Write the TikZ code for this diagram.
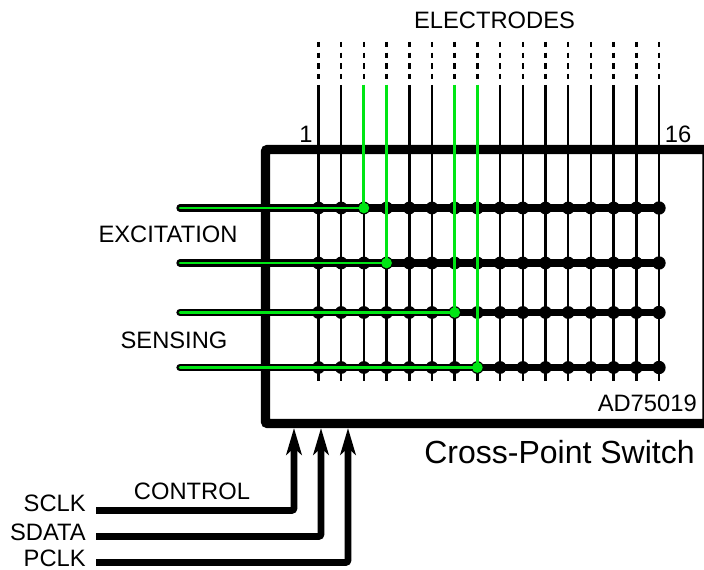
\documentclass[tikz,border=0pt]{standalone}
\usepackage{fontspec}
\setmainfont{Liberation Sans}
\usepackage{xcolor}
\usepackage{tikz}
\usetikzlibrary{arrows.meta, calc}
\definecolor{mygreen}{RGB}{0,230,20}
\tikzset{
  swbox/.style={draw=black,line width=6.9pt,rounded corners=1.5pt},
  lbl/.style={font=\fontsize{17.8pt}{19pt}\selectfont,inner sep=0pt},
  biglbl/.style={font=\fontsize{24pt}{26pt}\selectfont,inner sep=0pt},
  elec/.style={line width=1.9pt,color=black},
  elecdash/.style={line width=1.9pt,color=black,dash pattern=on 4.1pt off 3.9pt},
  greenelec/.style={line width=2.2pt,color=mygreen},
  rowbus/.style={line width=5.5pt,color=black,line cap=round},
  greenbus/.style={line width=2.2pt,color=mygreen,line cap=round},
  crossdot/.style={circle,fill=black,inner sep=0pt,minimum size=9.6pt},
  enddot/.style={circle,fill=black,inner sep=0pt,minimum size=10pt},
  greendot/.style={circle,fill=mygreen,inner sep=0pt,minimum size=8pt},
  ctrl/.style={line width=5.2pt,color=black,rounded corners=2pt,
    -{Stealth[length=20pt,width=11.5pt,inset=5pt]}}
}
\begin{document}
\begin{tikzpicture}[x=0.75pt,y=-0.75pt]
  \useasboundingbox (0,0) rectangle (704,570);
  \clip (0,0) rectangle (704,570);

  % ── Switch outline ───────────────────────────────────────────────
  \draw[swbox] (265.5,149.5) rectangle (707,423.5);

  % ── Electrodes ───────────────────────────────────────────────────
  \foreach \c in {1,...,16} {
    \coordinate (dash\c) at ({318.5+(\c-1)*22.7},42);
    \coordinate (top\c) at ({318.5+(\c-1)*22.7},85);
    \coordinate (end\c) at ({318.5+(\c-1)*22.7},381);
    \draw[elecdash] (dash\c) -- ($(top\c)+(0,-5)$);
    \draw[elec] (top\c) -- (end\c);
  }

  % ── Rows and crossings ───────────────────────────────────────────
  \foreach \r/\y in {1/208,2/263,3/312.5,4/367.5} {
    \coordinate (left\r) at (180,\y);
    \foreach \c in {1,...,15}
      \node[crossdot] (x\c-\r) at (top\c |- left\r) {};
    \node[enddot] (x16-\r) at (top16 |- left\r) {};
    \draw[rowbus] (left\r) -- (x16-\r.center);
  }

  % ── Closed switches ──────────────────────────────────────────────
  \foreach \c/\r in {3/1,4/2,7/3,8/4} {
    \draw[greenelec] (top\c) -- (x\c-\r.center);
    \draw[greenbus] (left\r) -- (x\c-\r.center);
    \node[greendot] (on\c-\r) at (x\c-\r) {};
  }

  % ── Control lines ────────────────────────────────────────────────
  \coordinate (sclkstart) at (96,510.5);
  \coordinate (sdatastart) at (96,536.5);
  \coordinate (pclkstart) at (96,562.5);
  \coordinate (sclktip) at (294,428);
  \coordinate (sdatatip) at (321,428);
  \coordinate (pclktip) at (348,428);
  \draw[ctrl] (sclkstart) -| (sclktip);
  \draw[ctrl] (sdatastart) -| (sdatatip);
  \draw[ctrl] (pclkstart) -| (pclktip);

  % ── Labels ───────────────────────────────────────────────────────
  \node[lbl] (electrodes) at (494.5,20) {ELECTRODES};
  \node[lbl] (first) at (306,134) {1};
  \node[lbl] (last) at (678,134) {16};
  \node[lbl] (excitation) at (168,234.5) {EXCITATION};
  \node[lbl] (sensing) at (174,340) {SENSING};
  \node[lbl,anchor=east] (part) at (697,403) {AD75019};
  \node[biglbl] (title) at (559.5,452) {Cross-Point Switch};
  \node[lbl] (control) at (192,491) {CONTROL};
  \node[lbl,anchor=east] (sclk) at (86,503.5) {SCLK};
  \node[lbl,anchor=east] (sdata) at (86,532) {SDATA};
  \node[lbl,anchor=east] (pclk) at (86,558.5) {PCLK};
\end{tikzpicture}
\end{document}
